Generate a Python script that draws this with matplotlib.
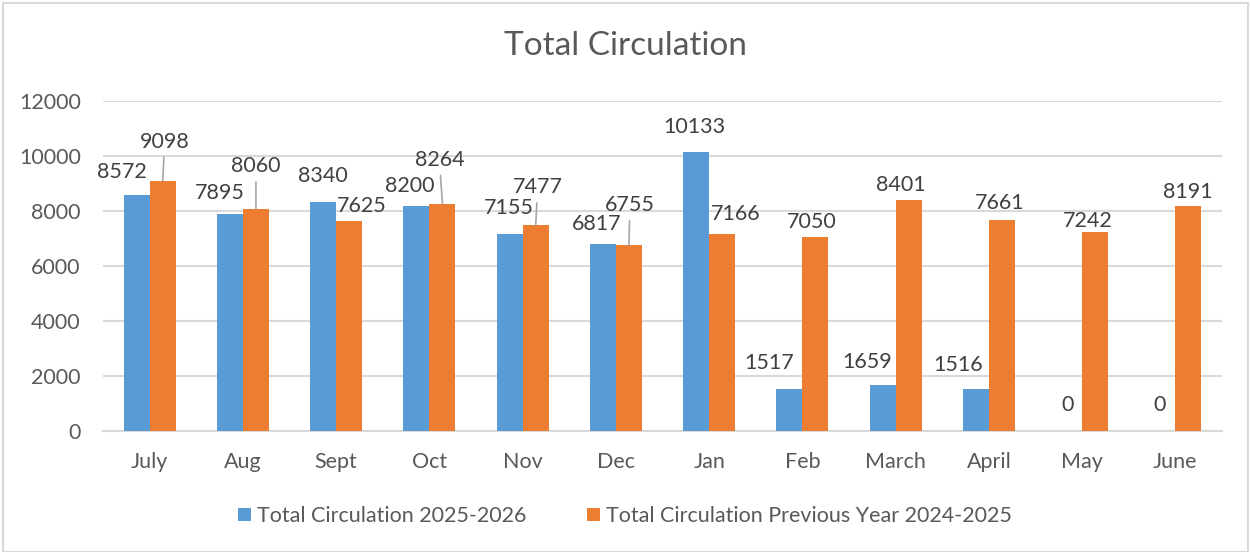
import numpy as np
import matplotlib.pyplot as plt
from matplotlib.patches import Rectangle

months = ["July", "Aug", "Sept", "Oct", "Nov", "Dec", "Jan", "Feb", "March", "April", "May", "June"]
circ_current = [8572, 7895, 8340, 8200, 7155, 6817, 10133, 1517, 1659, 1516, 0, 0]
circ_previous = [9098, 8060, 7625, 8264, 7477, 6755, 7166, 7050, 8401, 7661, 7242, 8191]

series_names = ["Total Circulation 2025-2026", "Total Circulation Previous Year 2024-2025"]

# hand-placed label offsets (pixels from top of bar), like the Excel original
offs_current = [(-15, 23), (-10, 21), (0, 26), (-7, 20), (-1, 26), (-6, 20),
                (-2, 25), (-20, 26), (-15, 23), (-18, 24), (-2, 26), (-3, 26)]
offs_previous = [(2, 39), (0, 43), (13, 15), (-3, 44), (2, 38), (1, 40),
                 (14, 20), (-4, 15), (-8, 15), (-2, 17), (-7, 11), (-1, 14)]
leader_previous = [True, True, False, True, True, True, False, False, False, False, False, False]

BLUE = "#5B9BD5"
ORANGE = "#ED7D31"
TXT = "#595959"
GRID = "#D9D9D9"
FS = 15.5

plt.rcParams["font.family"] = ["Lato", "DejaVu Sans"]


def add_labels(ax, xs, vals, offs, leaders=None):
    for i, (x, v) in enumerate(zip(xs, vals)):
        dx, dy = offs[i]
        lead = leaders[i] if leaders else False
        kw = {}
        if lead:
            kw["arrowprops"] = dict(arrowstyle="-", color="#A6A6A6", lw=1.2,
                                    shrinkA=2, shrinkB=0)
        ax.annotate(str(v), xy=(x, v), xytext=(dx, dy), textcoords="offset pixels",
                    ha="center", va="center", fontsize=FS, color="#404040", **kw)


fig = plt.figure(figsize=(12.5, 5.52), dpi=100)
ax = fig.add_axes([103 / 1250, 121 / 552, 1119 / 1250, 330 / 552])

x = np.arange(len(months))
w = 0.28
ax.bar(x - w / 2, circ_current, w, color=BLUE, label=series_names[0], zorder=3)
ax.bar(x + w / 2, circ_previous, w, color=ORANGE, label=series_names[1], zorder=3)

add_labels(ax, x - w / 2, circ_current, offs_current)
add_labels(ax, x + w / 2, circ_previous, offs_previous, leader_previous)

ax.set_xlim(-0.5, len(months) - 0.5)
ax.set_ylim(0, 12000)
ax.set_yticks(np.arange(0, 12001, 2000))
ax.set_xticks(x)
ax.set_xticklabels(months)
ax.yaxis.grid(True, color=GRID, lw=1.5, zorder=0)
ax.set_axisbelow(True)
for s in ["top", "right", "left"]:
    ax.spines[s].set_visible(False)
ax.spines["bottom"].set_color(GRID)
ax.spines["bottom"].set_linewidth(1.5)
ax.tick_params(axis="both", length=0, labelsize=FS, labelcolor=TXT)
ax.tick_params(axis="y", pad=16)
ax.tick_params(axis="x", pad=15)

fig.text(0.5, 1 - 46 / 552, "Total Circulation", ha="center", va="center",
         fontsize=24, color=TXT)

leg = fig.legend(loc="center", bbox_to_anchor=(0.5, 1 - 516 / 552), ncol=2, frameon=False,
                 fontsize=FS, handlelength=0.6, handleheight=0.6, handletextpad=0.3,
                 columnspacing=2.8)
for t in leg.get_texts():
    t.set_color(TXT)

fig.patches.append(Rectangle((0.002, 0.0), 0.996, 0.995, transform=fig.transFigure,
                             fill=False, edgecolor=GRID, lw=1.5))

fig.savefig("out.png", dpi=100)
